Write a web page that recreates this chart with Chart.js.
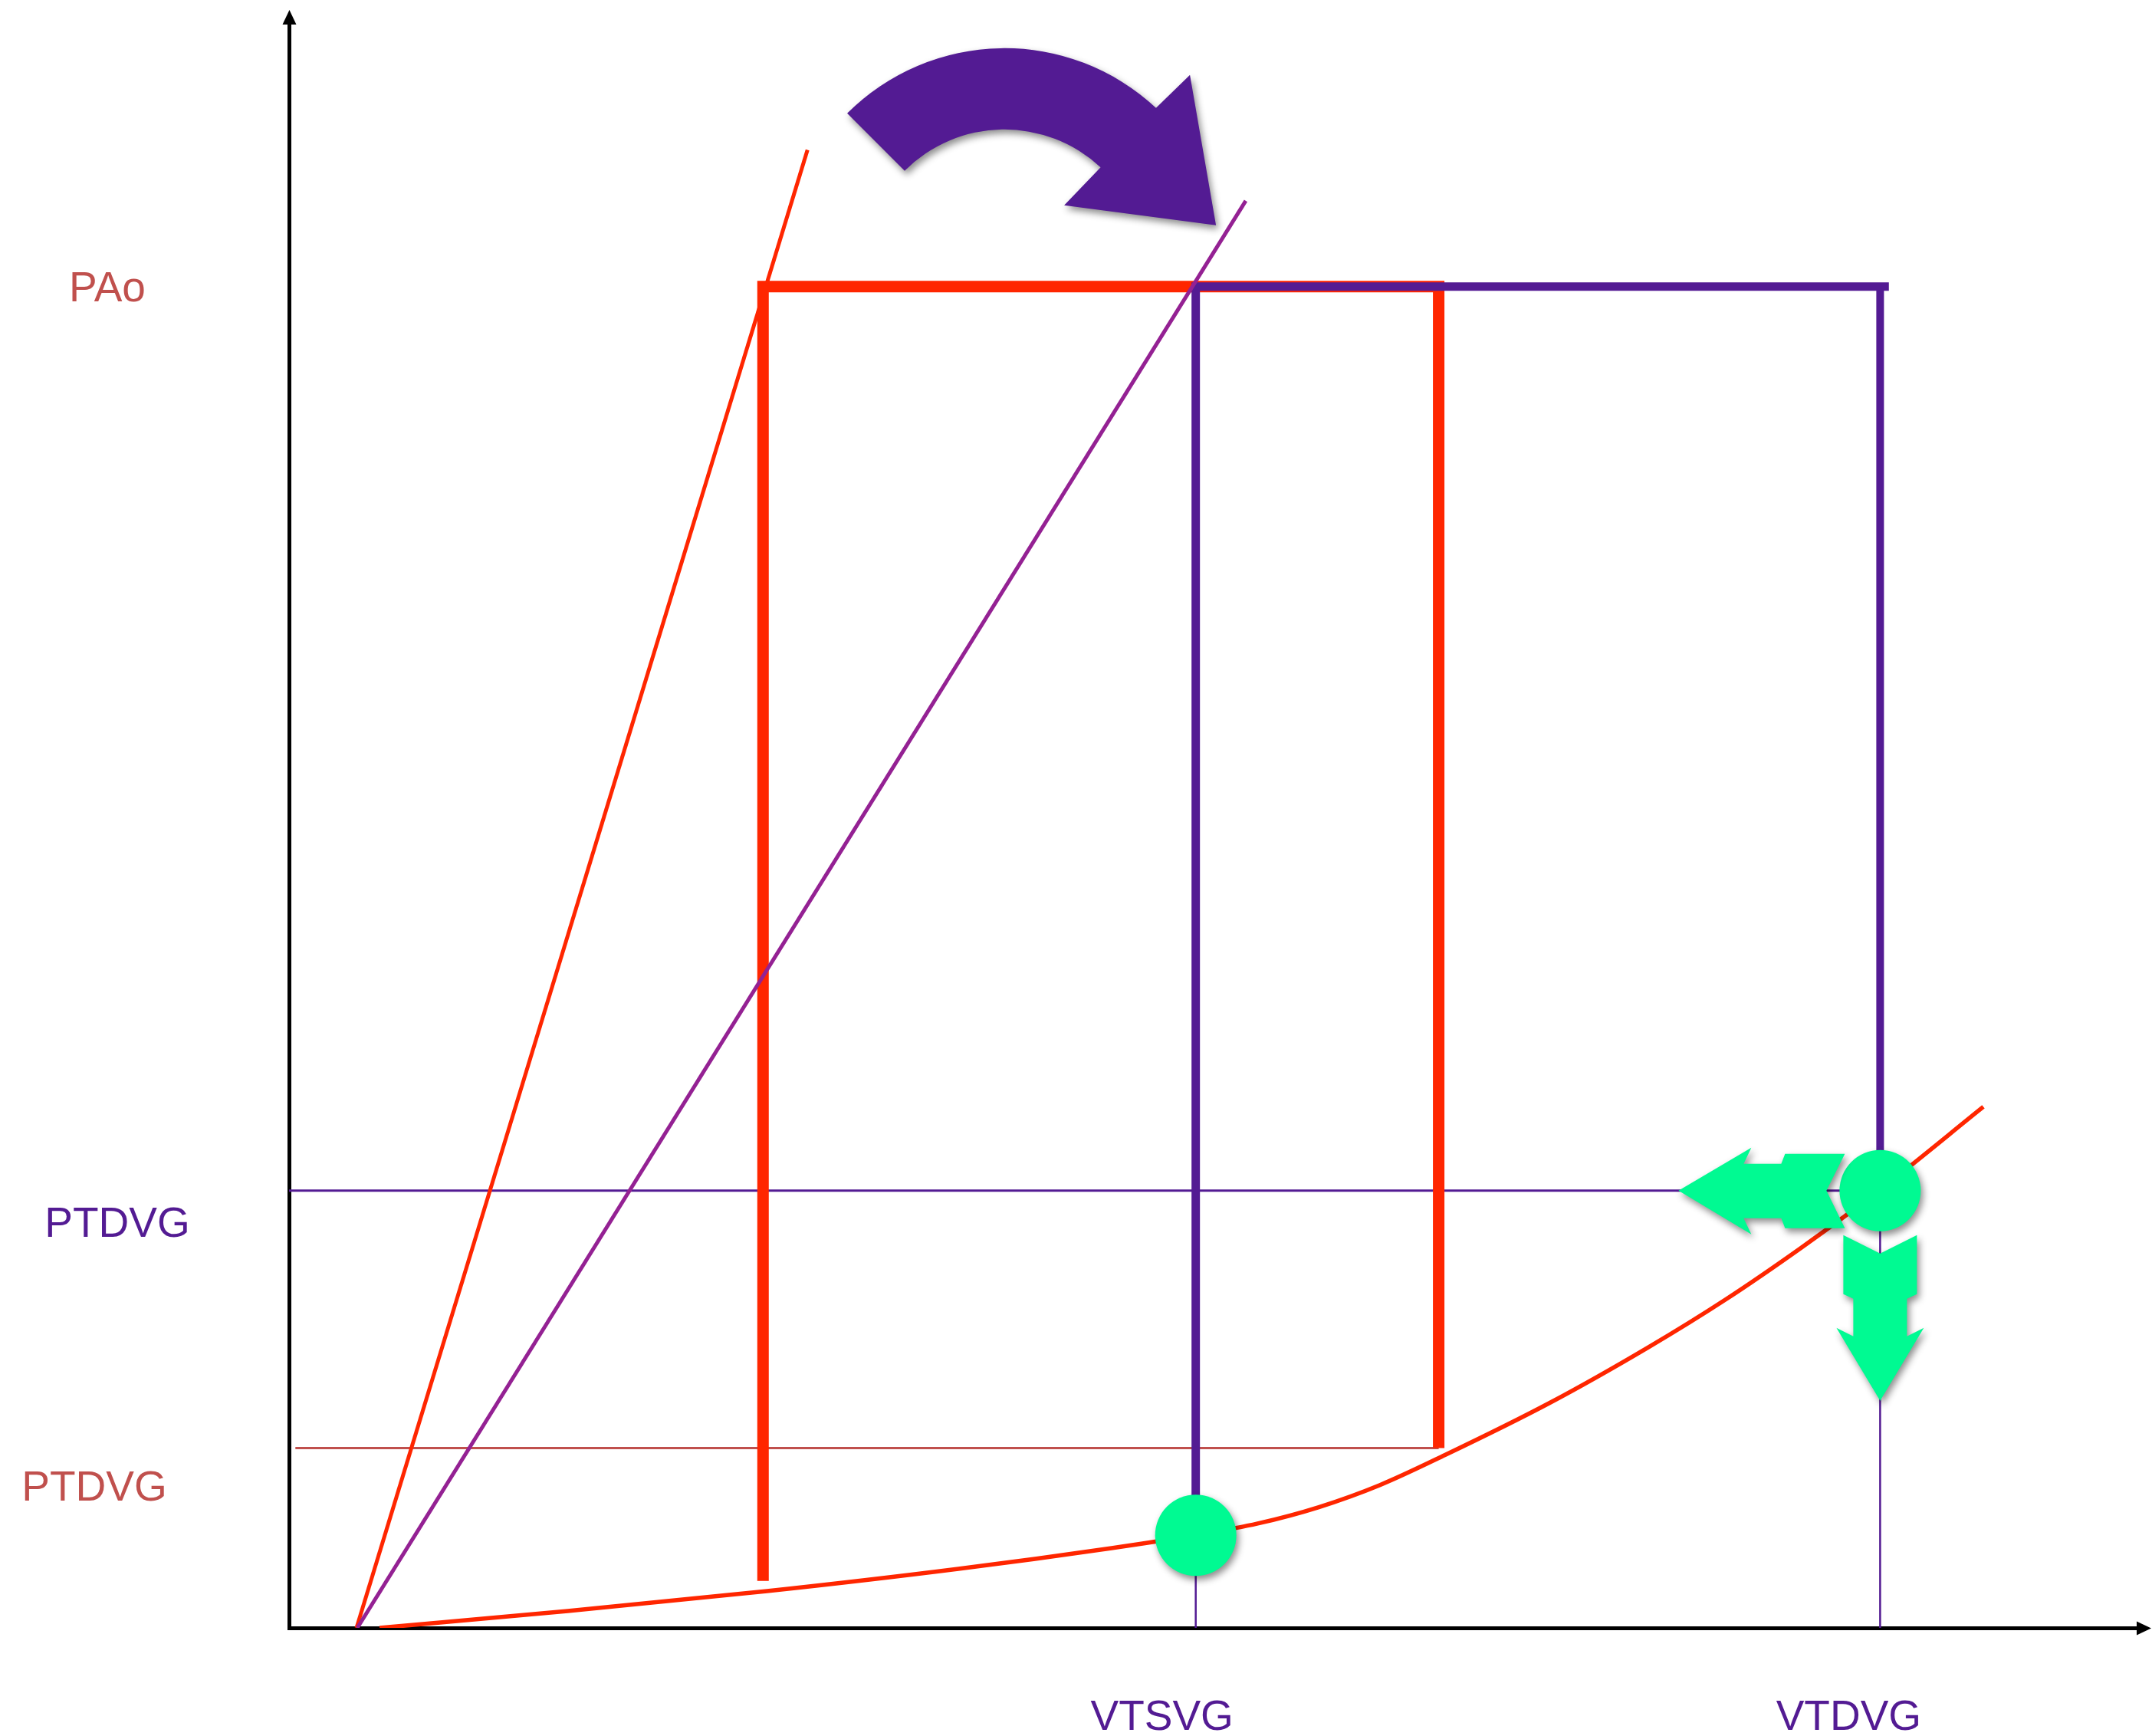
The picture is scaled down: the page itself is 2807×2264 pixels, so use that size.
<!DOCTYPE html>
<html>
<head>
<meta charset="utf-8">
<title>Boucle pression-volume du VG</title>
<script src="https://cdn.jsdelivr.net/npm/chart.js@4.4.1/dist/chart.umd.min.js"></script>
<style>
  html, body { margin: 0; padding: 0; background: #ffffff; }
  canvas { display: block; }
</style>
</head>
<body>
<canvas id="pv" width="2807" height="2264"></canvas>
<script>
// ---- Valeurs (volume en x, pression en y, unités arbitraires) ----
const xTickValues = [114.2, 200.4];
const xTickLabels = ['VTSVG', 'VTDVG'];
const yTickValues = [100, 32.6, 13.4];
const yTickLabels = ['PAo', 'PTDVG', 'PTDVG'];

// Relation pression-volume télédiastolique
const edpvrX = [11.4, 35.1, 60.2, 84.3, 103.6, 114.2, 122.0, 129.7, 137.4, 145.6, 158.7, 171.2, 180.9, 190.5, 200.4, 213.4];
const edpvrY = [0, 1.26, 2.74, 4.40, 5.95, 6.92, 7.78, 9.00, 10.65, 12.89, 16.75, 20.92, 24.47, 28.36, 32.67, 38.85];

// Droites d'élastance télésystolique
const espvrRedX = [8.5, 65.3];
const espvrRedY = [0, 110.2];
const espvrPurpleX = [8.6, 120.5];
const espvrPurpleY = [0, 106.4];

// Boucles (éjection)
const loopRedX = [59.7, 59.7, 144.8, 144.8];
const loopRedY = [3.5, 100, 100, 13.4];
const loopPurpleX = [114.2, 114.2, 201.5];
const loopPurpleY = [6.9, 100, 100];
const loopPurpleRightX = [200.4, 200.4];
const loopPurpleRightY = [100, 32.6];

// Repères horizontaux / verticaux
const refRedX = [0.8, 144.8];
const refRedY = [13.4, 13.4];
const refPurpleX = [0, 200.4];
const refPurpleY = [32.6, 32.6];
const dropSystoleX = [114.2, 114.2];
const dropSystoleY = [6.9, 0];
const dropDiastoleX = [200.4, 200.4];
const dropDiastoleY = [32.6, 0];

// Points télésystolique et télédiastolique
const pointsX = [114.2, 200.4];
const pointsY = [6.9, 32.6];

// ---- Styles ----
const RED = '#FF2600';
const RED_TEXT = '#C0504D';
const PURPLE = '#531B93';
const PLUM = '#942193';
const GREEN = '#00FA92';
const FONT = "55px 'Liberation Sans', Arial, sans-serif";

const zip = (xs, ys) => xs.map((x, i) => ({ x, y: ys[i] }));

function lineSet(label, xs, ys, color, width, order, extra) {
  return Object.assign({
    label, data: zip(xs, ys), borderColor: color, borderWidth: width,
    pointRadius: 0, showLine: true, fill: false, tension: 0, order,
    borderCapStyle: 'butt', borderJoinStyle: 'miter'
  }, extra || {});
}

function setShadow(ctx) {
  ctx.shadowColor = 'rgba(0,0,0,0.45)';
  ctx.shadowBlur = 10;
  ctx.shadowOffsetX = 3;
  ctx.shadowOffsetY = 5;
}

// Flèches vertes (décalages en pixels autour du point télédiastolique)
const leftArrowShape = [[-263,0],[-168,-56],[-178,-35],[-129,-35],[-124,-48],[-46,-48],[-70,0],[-46,49],[-124,49],[-129,36],[-178,36],[-168,57]];
const downArrowShape = [[-48,58],[0,82],[48,58],[48,135],[35,141],[35,190],[57,179],[0,274],[-57,179],[-35,190],[-35,141],[-48,135]];

// Flèche courbe (centre en unités des axes, rayons en pixels)
const curvedArrow = { cx: 90.1, cy: 101.2, rOut: 290, rIn: 184, a0: -135, a1: -47,
  head: [[242,-255],[276,-59],[78,-85]] };

// Position des libellés d'axes
const yLabelStyle = [ { dx: -237, dy: 4, color: RED_TEXT }, { dx: -224, dy: 45, color: PURPLE }, { dx: -254, dy: 53, color: RED_TEXT } ];
const xLabelStyle = [ { dx: -44, dy: 118, color: PURPLE }, { dx: -41, dy: 118, color: PURPLE } ];

const decorations = {
  id: 'decorations',
  beforeDatasetDraw(chart, args) {
    if (chart.data.datasets[args.index].label === 'points') {
      chart.ctx.save();
      setShadow(chart.ctx);
    }
  },
  afterDatasetDraw(chart, args) {
    if (chart.data.datasets[args.index].label === 'points') chart.ctx.restore();
  },
  afterDatasetsDraw(chart) {
    const ctx = chart.ctx;
    const xs = chart.scales.x, ys = chart.scales.y;

    // flèches vertes
    const px = xs.getPixelForValue(pointsX[1]);
    const py = ys.getPixelForValue(pointsY[1]);
    [leftArrowShape, downArrowShape].forEach(shape => {
      ctx.save();
      setShadow(ctx);
      ctx.fillStyle = GREEN;
      ctx.beginPath();
      shape.forEach(([dx, dy], i) => i ? ctx.lineTo(px + dx, py + dy) : ctx.moveTo(px + dx, py + dy));
      ctx.closePath();
      ctx.fill();
      ctx.restore();
    });

    // flèche courbe violette
    const cx = xs.getPixelForValue(curvedArrow.cx);
    const cy = ys.getPixelForValue(curvedArrow.cy);
    const r = Math.PI / 180;
    ctx.save();
    setShadow(ctx);
    ctx.fillStyle = PURPLE;
    ctx.beginPath();
    ctx.arc(cx, cy, curvedArrow.rOut, curvedArrow.a0 * r, curvedArrow.a1 * r, false);
    curvedArrow.head.forEach(([dx, dy]) => ctx.lineTo(cx + dx, cy + dy));
    ctx.arc(cx, cy, curvedArrow.rIn, curvedArrow.a1 * r, curvedArrow.a0 * r, true);
    ctx.closePath();
    ctx.fill();
    ctx.restore();

    // pointes des axes
    ctx.save();
    ctx.fillStyle = '#000';
    const ax = xs.getPixelForValue(0) + 0.5, ay = ys.getPixelForValue(0) + 0.5;
    ctx.beginPath();
    ctx.moveTo(ax, 13); ctx.lineTo(ax - 9, 32); ctx.lineTo(ax + 9, 32); ctx.closePath(); ctx.fill();
    ctx.beginPath();
    ctx.moveTo(2806, ay); ctx.lineTo(2787, ay - 9); ctx.lineTo(2787, ay + 9); ctx.closePath(); ctx.fill();
    ctx.restore();

    // libellés
    ctx.save();
    ctx.font = FONT;
    ctx.textAlign = 'center';
    ctx.textBaseline = 'middle';
    yTickValues.forEach((v, i) => {
      const s = yLabelStyle[i];
      ctx.fillStyle = s.color;
      ctx.fillText(yTickLabels[i], xs.getPixelForValue(0) + s.dx, ys.getPixelForValue(v) + s.dy);
    });
    xTickValues.forEach((v, i) => {
      const s = xLabelStyle[i];
      ctx.fillStyle = s.color;
      ctx.fillText(xTickLabels[i], xs.getPixelForValue(v) + s.dx, ys.getPixelForValue(0) + s.dy);
    });
    ctx.restore();
  }
};

const axisOpts = (max) => ({
  type: 'linear', min: 0, max,
  grid: { display: false, drawTicks: false },
  border: { display: true, color: '#000000', width: 5 },
  ticks: { display: false }
});

new Chart(document.getElementById('pv'), {
  type: 'line',
  data: {
    datasets: [
      { label: 'points', data: zip(pointsX, pointsY), showLine: false, pointRadius: 53,
        pointHoverRadius: 53, pointBackgroundColor: GREEN, pointBorderWidth: 0, borderColor: GREEN, order: 0 },
      lineSet('edpvr', edpvrX, edpvrY, RED, 5.5, 1, { cubicInterpolationMode: 'monotone' }),
      lineSet('espvr2', espvrPurpleX, espvrPurpleY, PLUM, 5, 2),
      lineSet('espvr1', espvrRedX, espvrRedY, RED, 5, 3),
      lineSet('boucle2', loopPurpleX, loopPurpleY, PURPLE, 11, 4),
      lineSet('boucle2b', loopPurpleRightX, loopPurpleRightY, PURPLE, 10, 4),
      lineSet('boucle1', loopRedX, loopRedY, RED, 15, 5),
      lineSet('ref1', refRedX, refRedY, RED_TEXT, 3, 6),
      lineSet('ref2', refPurpleX, refPurpleY, PURPLE, 3, 6),
      lineSet('vts', dropSystoleX, dropSystoleY, PURPLE, 2.5, 6),
      lineSet('vtd', dropDiastoleX, dropDiastoleY, PURPLE, 2.5, 6)
    ]
  },
  options: {
    responsive: false,
    animation: false,
    devicePixelRatio: 1,
    layout: { autoPadding: false, padding: { left: 377, right: 17, top: 24, bottom: 141 } },
    plugins: { legend: { display: false }, tooltip: { enabled: false } },
    events: [],
    scales: { x: axisOpts(233), y: axisOpts(120) }
  },
  plugins: [decorations]
});
</script>
</body>
</html>
